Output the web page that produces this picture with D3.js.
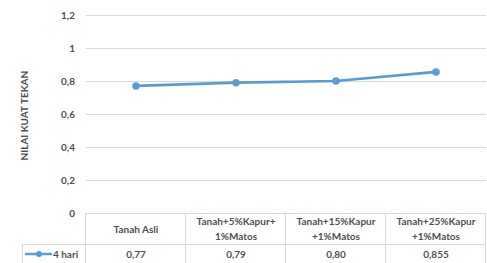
<!DOCTYPE html>
<html>
<head>
<meta charset="utf-8">
<script src="https://cdn.jsdelivr.net/npm/d3@7"></script>
<style>
  body { margin: 0; background: #fff; }
  text { font-family: Lato, "Open Sans", sans-serif; font-weight: bold; fill: #505050; }
</style>
</head>
<body>
<div id="chart"></div>
<script>
const categories = [
    ["Tanah Asli"],
    ["Tanah+5%Kapur+", "1%Matos"],
    ["Tanah+15%Kapur", "+1%Matos"],
    ["Tanah+25%Kapur", "+1%Matos"]
];
const seriesName = "4 hari";
const values = [0.77, 0.79, 0.80, 0.855];
const valueLabels = ["0,77", "0,79", "0,80", "0,855"];
const yTicks = [0, 0.2, 0.4, 0.6, 0.8, 1, 1.2];

const W = 487, H = 263;
const margin = { top: 15, right: 1, left: 86 };
const plotBottom = 213;
const rowSplit = 244;
const legendLeft = 22;
const fs = "10px";

const svg = d3.select("#chart")
    .append("svg")
    .attr("width", W)
    .attr("height", H);

const x = d3.scaleBand()
    .domain(d3.range(categories.length))
    .range([margin.left, W - margin.right]);

const y = d3.scaleLinear()
    .domain([0, 1.2])
    .range([plotBottom, margin.top]);

// gridlines
svg.append("g")
    .selectAll("line")
    .data(yTicks)
    .enter().append("line")
    .attr("x1", margin.left)
    .attr("x2", W - margin.right)
    .attr("y1", d => Math.round(y(d)) + 0.5)
    .attr("y2", d => Math.round(y(d)) + 0.5)
    .attr("stroke", "#d9d9d9");

// tick labels
svg.append("g")
    .selectAll("text")
    .data(yTicks)
    .enter().append("text")
    .attr("x", 75)
    .attr("y", d => y(d) + 3.5)
    .attr("text-anchor", "end")
    .style("font-size", fs)
    .text(d => String(d).replace(".", ","));

// axis title
svg.append("text")
    .attr("transform", `translate(28, ${y(0.59)}) rotate(-90)`)
    .attr("text-anchor", "middle")
    .style("font-size", fs)
    .text("NILAI KUAT TEKAN");

// data table lines
const grid = svg.append("g").attr("stroke", "#d9d9d9");
grid.selectAll("line.v")
    .data(d3.range(categories.length + 1))
    .enter().append("line")
    .attr("x1", i => Math.round(i < categories.length ? x(i) : W - margin.right) - 0.5)
    .attr("x2", i => Math.round(i < categories.length ? x(i) : W - margin.right) - 0.5)
    .attr("y1", plotBottom)
    .attr("y2", H);
grid.append("line")
    .attr("x1", legendLeft).attr("x2", W - margin.right)
    .attr("y1", rowSplit + 0.5).attr("y2", rowSplit + 0.5);
grid.append("line")
    .attr("x1", legendLeft + 0.5).attr("x2", legendLeft + 0.5)
    .attr("y1", rowSplit).attr("y2", H);

// category headers
const headers = svg.append("g")
    .selectAll("text")
    .data(categories)
    .enter().append("text")
    .attr("text-anchor", "middle")
    .style("font-size", fs)
    .attr("x", (d, i) => x(i) + x.bandwidth() / 2)
    .attr("y", d => d.length === 1 ? 233 : 225);
headers.selectAll("tspan")
    .data(d => d)
    .enter().append("tspan")
    .attr("x", function() { return d3.select(this.parentNode).attr("x"); })
    .attr("dy", (d, i) => i === 0 ? 0 : 15)
    .text(d => d);

// value row
svg.append("g")
    .selectAll("text")
    .data(valueLabels)
    .enter().append("text")
    .attr("text-anchor", "middle")
    .style("font-size", fs)
    .attr("x", (d, i) => x(i) + x.bandwidth() / 2)
    .attr("y", 258)
    .text(d => d);

// legend key
const color = "#5b9bd5";
svg.append("line")
    .attr("x1", 25).attr("x2", 52)
    .attr("y1", 254).attr("y2", 254)
    .attr("stroke", color).attr("stroke-width", 2.5);
svg.append("circle")
    .attr("cx", 39).attr("cy", 254).attr("r", 3)
    .attr("fill", color);
svg.append("text")
    .attr("x", 53).attr("y", 258)
    .style("font-size", fs)
    .text(seriesName);

// series
const line = d3.line()
    .x((d, i) => x(i) + x.bandwidth() / 2)
    .y(d => y(d));

svg.append("path")
    .datum(values)
    .attr("fill", "none")
    .attr("stroke", color)
    .attr("stroke-width", 2.75)
    .attr("d", line);

svg.append("g")
    .selectAll("circle")
    .data(values)
    .enter().append("circle")
    .attr("cx", (d, i) => x(i) + x.bandwidth() / 2)
    .attr("cy", d => y(d))
    .attr("r", 3.75)
    .attr("fill", color);
</script>
</body>
</html>
